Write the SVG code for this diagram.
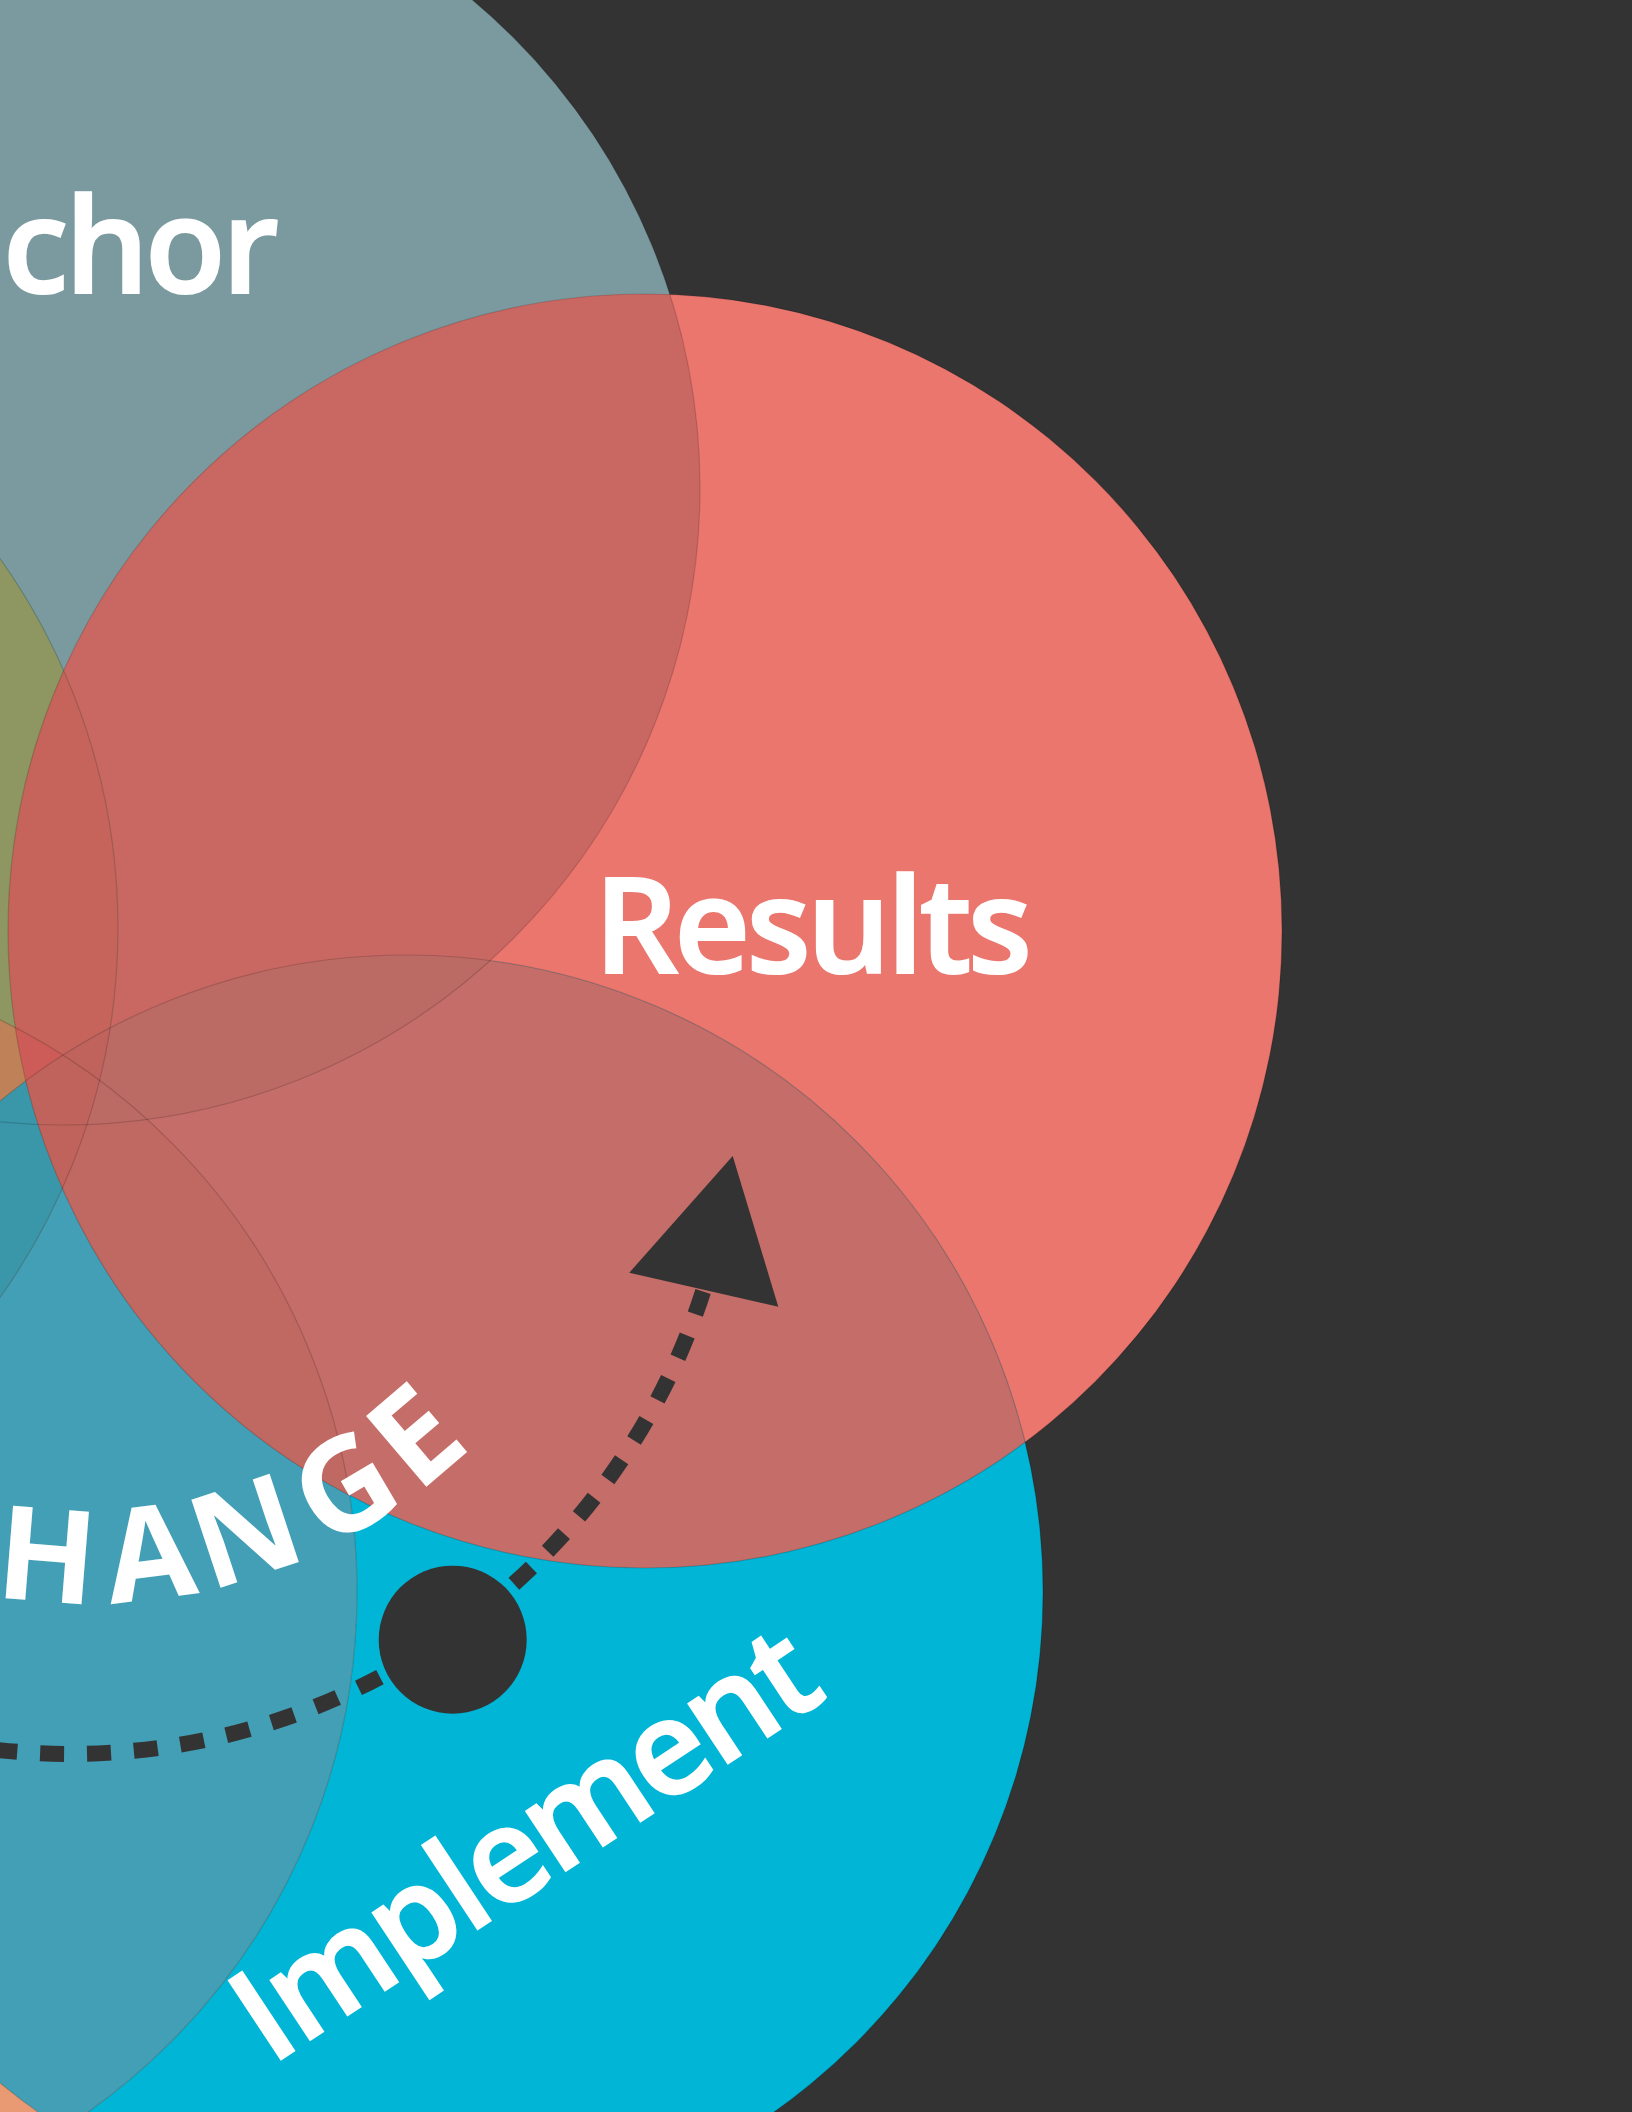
<svg xmlns="http://www.w3.org/2000/svg" width="1632" height="2112" viewBox="0 0 1632 2112">
<defs>
<style>
.lbl{font-family:"Open Sans","Noto Sans","Liberation Sans",sans-serif;fill:#fff;stroke:#fff;stroke-width:2.2;font-weight:600;font-size:132px}
.chg{font-family:"Open Sans","Noto Sans","Liberation Sans",sans-serif;fill:#fff;font-weight:700;font-size:130px;text-anchor:middle}
.edge{fill:none;stroke:#000;stroke-opacity:.16;stroke-width:1.2}
.dash{fill:none;stroke:#333;stroke-width:16;stroke-dasharray:24 22.9;stroke-dashoffset:23.3}
.dark{fill:#333}
</style>
<clipPath id="cA"><circle cx="63" cy="488" r="637"/></clipPath>
<clipPath id="cR"><circle cx="645" cy="931" r="637"/></clipPath>
<clipPath id="cB"><circle cx="406" cy="1592" r="637"/></clipPath>
<clipPath id="cC"><circle cx="-280" cy="1592" r="637"/></clipPath>
<clipPath id="cO"><circle cx="-519" cy="928" r="637"/></clipPath>
</defs>
<rect width="1632" height="2112" fill="#333"/>
<g id="anchor"><circle cx="63" cy="488" r="637" fill="#7b9a9f"/></g>
<g id="results"><circle cx="645" cy="931" r="637" fill="#ea766e"/></g>
<g id="implement"><circle cx="406" cy="1592" r="637" fill="#00b5d6"/></g>
<g id="change"><circle cx="-280" cy="1592" r="637" fill="#ea9a72"/></g>
<g id="fifth"><circle cx="-519" cy="928" r="637" fill="#3a97aa"/></g>
<g id="overlaps">
<g clip-path="url(#cA)"><circle cx="645" cy="931" r="637" fill="#c96862"/></g>
<g clip-path="url(#cA)"><circle cx="-519" cy="928" r="637" fill="#8e9661"/></g>
<g clip-path="url(#cR)"><circle cx="-519" cy="928" r="637" fill="#c6635a"/></g>
<g clip-path="url(#cC)"><circle cx="406" cy="1592" r="637" fill="#439fb5"/></g>
<g clip-path="url(#cC)"><circle cx="-519" cy="928" r="637" fill="#bf8158"/></g>
<g clip-path="url(#cB)"><circle cx="-519" cy="928" r="637" fill="#3a97aa"/></g>
<g clip-path="url(#cC)"><circle cx="645" cy="931" r="637" fill="#cd5b57"/></g>
<g clip-path="url(#cB)"><circle cx="645" cy="931" r="637" fill="#c56d68"/></g>
<g clip-path="url(#cB)"><g clip-path="url(#cC)"><circle cx="645" cy="931" r="637" fill="#c06862"/></g></g>
<g clip-path="url(#cB)"><g clip-path="url(#cA)"><circle cx="645" cy="931" r="637" fill="#bc6a64"/></g></g>
<g clip-path="url(#cB)"><g clip-path="url(#cO)"><circle cx="645" cy="931" r="637" fill="#c0635d"/></g></g>
</g>
<g id="edges">
<circle class="edge" cx="63" cy="488" r="637"/>
<circle class="edge" cx="645" cy="931" r="637"/>
<circle class="edge" cx="406" cy="1592" r="637"/>
<circle class="edge" cx="-280" cy="1592" r="637"/>
<circle class="edge" cx="-519" cy="928" r="637"/>
</g>
<g id="anchor-label"><text class="lbl" x="3" y="293" textLength="276">chor</text></g>
<g id="results-label"><text class="lbl" x="594" y="973" font-size="133" textLength="438">Results</text></g>
<g id="implement-label"><text class="lbl" transform="translate(280,2060) rotate(-33.5)" x="-11" y="0" font-size="131" textLength="670">Implement</text></g>
<g id="change-label">
<text class="chg" transform="translate(43.5,1601.2) rotate(4.6)">H</text>
<text class="chg" transform="translate(155.3,1598.6) rotate(-7.2)">A</text>
<text class="chg" transform="translate(259.6,1575) rotate(-18.3)">N</text>
<text class="chg" transform="translate(367.5,1526) rotate(-30.6)">G</text>
<text class="chg" transform="translate(445.1,1470.5) rotate(-40.5)">E</text>
</g>
<g id="connectors">
<path class="dash" d="M -30 1746.4 A 665 665 0 0 0 703.5 1290"/>
<polygon class="dark" points="732.7,1156 629.3,1272.7 778.3,1306.7"/>
</g>
<g id="start-dot"><circle class="dark" cx="452.7" cy="1639.7" r="74"/></g>
</svg>
